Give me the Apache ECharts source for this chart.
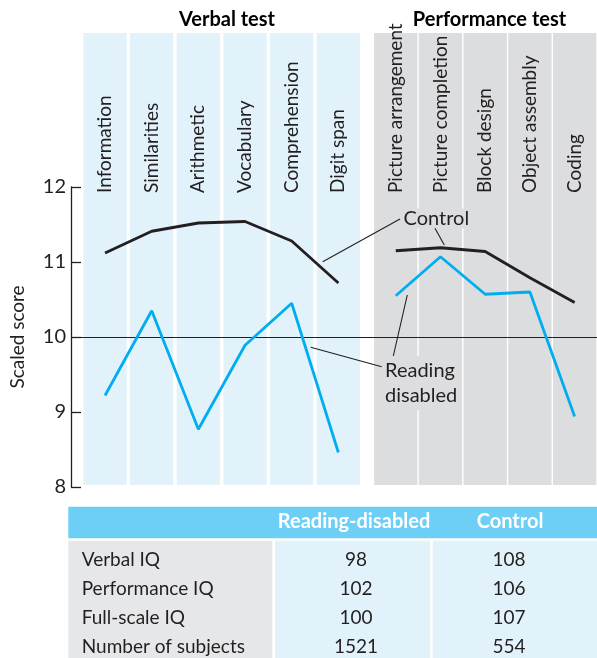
<!DOCTYPE html>
<html>
<head>
<meta charset="utf-8">
<script src="https://cdn.jsdelivr.net/npm/echarts@6/dist/echarts.min.js"></script>
<style>
  html, body { margin: 0; padding: 0; background: #ffffff; }
  #chart { width: 597px; height: 658px; }
</style>
</head>
<body>
<div id="chart"></div>
<script>
// ---- data ----
const verbalTests = ['Information', 'Similarities', 'Arithmetic', 'Vocabulary', 'Comprehension', 'Digit span'];
const performanceTests = ['Picture arrangement', 'Picture completion', 'Block design', 'Object assembly', 'Coding'];
const controlVerbal = [11.12, 11.41, 11.52, 11.54, 11.28, 10.72];
const controlPerformance = [11.15, 11.19, 11.14, 10.79, 10.46];
const readingVerbal = [9.22, 10.35, 8.77, 9.89, 10.45, 8.46];
const readingPerformance = [10.55, 11.07, 10.57, 10.60, 8.94];
const yTicks = [8, 9, 10, 11, 12];
const referenceScore = 10;
const groupTitles = ['Verbal test', 'Performance test'];
const tableHeader = ['Reading-disabled', 'Control'];
const tableRowLabels = ['Verbal IQ', 'Performance IQ', 'Full-scale IQ', 'Number of subjects'];
const tableReading = ['98', '102', '100', '1521'];
const tableControl = ['108', '106', '107', '554'];

// ---- styling ----
const FONT = 'Lato, "Open Sans", sans-serif';
const INK = '#231f20';
const BLUE = '#00aeef';
const VERBAL_BG = '#e1f2fb';
const PERF_BG = '#dcdddf';

const chart = echarts.init(document.getElementById('chart'), null, { renderer: 'canvas' });

const PLOT_TOP = 187, PLOT_H = 300;
const BG_TOP = 33, BG_H = 452;
const V_LEFT = 81.7, V_W = 280;
const P_LEFT = 373.4, P_W = 236;

function bgOnes(n) { return new Array(n).fill(1); }

const tbl = [];
tbl.push({ type: 'rect', shape: { x: 68.3, y: 506.7, width: 528.7, height: 31.6 }, style: { fill: '#6dcff6' } });
tbl.push({ type: 'rect', shape: { x: 68.3, y: 540.7, width: 204, height: 118 }, style: { fill: '#e6e7e8' } });
tbl.push({ type: 'rect', shape: { x: 275, y: 540.7, width: 155, height: 118 }, style: { fill: VERBAL_BG } });
tbl.push({ type: 'rect', shape: { x: 432.7, y: 540.7, width: 164.3, height: 118 }, style: { fill: VERBAL_BG } });
tbl.push({ type: 'text', style: { x: 354, y: 522, text: tableHeader[0], fill: '#ffffff', font: 'bold 20px ' + FONT, textAlign: 'center', textVerticalAlign: 'middle' } });
tbl.push({ type: 'text', style: { x: 510, y: 522, text: tableHeader[1], fill: '#ffffff', font: 'bold 20px ' + FONT, textAlign: 'center', textVerticalAlign: 'middle' } });
const rowY = [560, 589.3, 618.3, 646.7];
tableRowLabels.forEach((lab, i) => {
  tbl.push({ type: 'text', style: { x: 81.7, y: rowY[i], text: lab, fill: INK, font: '19px ' + FONT, textAlign: 'left', textVerticalAlign: 'middle' } });
  tbl.push({ type: 'text', style: { x: 356, y: rowY[i], text: tableReading[i], fill: INK, font: '19px ' + FONT, textAlign: 'center', textVerticalAlign: 'middle' } });
  tbl.push({ type: 'text', style: { x: 509, y: rowY[i], text: tableControl[i], fill: INK, font: '19px ' + FONT, textAlign: 'center', textVerticalAlign: 'middle' } });
});

// titles
tbl.push({ type: 'text', style: { x: 227, y: 20, text: groupTitles[0], fill: '#000', font: 'bold 20px ' + FONT, textAlign: 'center', textVerticalAlign: 'middle' } });
tbl.push({ type: 'text', style: { x: 489.5, y: 20, text: groupTitles[1], fill: '#000', font: 'bold 20px ' + FONT, textAlign: 'center', textVerticalAlign: 'middle' } });

// annotations: labels with leader lines
const annoFont = '20px ' + FONT;
tbl.push({ type: 'text', z: 20, style: { x: 403.5, y: 218.5, text: 'Control', fill: INK, font: annoFont, textAlign: 'left', textVerticalAlign: 'middle', backgroundColor: PERF_BG } });
tbl.push({ type: 'text', z: 20, style: { x: 385, y: 383, text: 'Reading\ndisabled', fill: INK, font: annoFont, lineHeight: 25, textAlign: 'left', textVerticalAlign: 'middle', backgroundColor: PERF_BG, padding: [2, 2, 2, 0] } });
const leaders = [
  [400, 219, 322.7, 261.7],
  [435, 228.3, 444.3, 245],
  [381.7, 366.7, 310.7, 347.3],
  [393.3, 356, 407.3, 295]
];
leaders.forEach(l => tbl.push({ type: 'line', z: 21, shape: { x1: l[0], y1: l[1], x2: l[2], y2: l[3] }, style: { stroke: INK, lineWidth: 1.1 } }));

const hiddenCat = (gi, data) => ({ type: 'category', gridIndex: gi, data: data, show: false, boundaryGap: true });
const hiddenVal = (gi, min, max) => ({ type: 'value', gridIndex: gi, min: min, max: max, show: false });
const catLabel = { interval: 0, rotate: -90, margin: -6, fontSize: 19, color: INK, fontFamily: FONT };

const option = {
  animation: false,
  backgroundColor: '#ffffff',
  textStyle: { fontFamily: FONT, color: INK },
  grid: [
    { left: 68.3, right: 0, top: PLOT_TOP, height: PLOT_H },
    { left: V_LEFT, width: V_W, top: BG_TOP, height: BG_H },
    { left: P_LEFT, width: P_W, top: BG_TOP, height: BG_H },
    { left: V_LEFT, width: V_W, top: PLOT_TOP, height: PLOT_H },
    { left: P_LEFT, width: P_W, top: PLOT_TOP, height: PLOT_H }
  ],
  xAxis: [
    { type: 'value', gridIndex: 0, min: 0, max: 1, show: false },
    hiddenCat(1, verbalTests),
    hiddenCat(2, performanceTests),
    {
      type: 'category', gridIndex: 3, data: verbalTests, position: 'top', boundaryGap: true,
      axisLine: { show: false }, axisTick: { show: false }, axisLabel: catLabel
    },
    {
      type: 'category', gridIndex: 4, data: performanceTests, position: 'top', boundaryGap: true,
      axisLine: { show: false }, axisTick: { show: false }, axisLabel: catLabel
    }
  ],
  yAxis: [
    {
      type: 'value', gridIndex: 0, min: yTicks[0], max: yTicks[yTicks.length - 1], interval: 1,
      name: 'Scaled score', nameLocation: 'middle', nameGap: 44,
      nameTextStyle: { fontSize: 19, color: INK, fontFamily: FONT },
      axisLine: { show: true, lineStyle: { color: INK, width: 1.3 } },
      axisTick: { show: true, inside: true, length: 10, lineStyle: { color: INK, width: 1.3 } },
      axisLabel: { fontSize: 20, color: INK, margin: 5, fontFamily: FONT },
      splitLine: { show: false }
    },
    hiddenVal(1, 0, 1),
    hiddenVal(2, 0, 1),
    hiddenVal(3, yTicks[0], yTicks[yTicks.length - 1]),
    hiddenVal(4, yTicks[0], yTicks[yTicks.length - 1])
  ],
  series: [
    {
      type: 'bar', xAxisIndex: 1, yAxisIndex: 1, data: bgOnes(verbalTests.length), barWidth: 43.3,
      itemStyle: { color: VERBAL_BG }, z: 0, silent: true
    },
    {
      type: 'bar', xAxisIndex: 2, yAxisIndex: 2, data: bgOnes(performanceTests.length), barWidth: 43.3,
      itemStyle: { color: PERF_BG }, z: 0, silent: true
    },
    {
      type: 'line', xAxisIndex: 0, yAxisIndex: 0, data: [], z: 3,
      markLine: {
        silent: true, symbol: 'none', label: { show: false },
        lineStyle: { color: INK, width: 1.2, type: 'solid' },
        data: [{ yAxis: referenceScore }]
      }
    },
    {
      name: 'Control', type: 'line', xAxisIndex: 3, yAxisIndex: 3, data: controlVerbal, z: 5,
      symbol: 'none', lineStyle: { color: INK, width: 2.8 }, itemStyle: { color: INK }
    },
    {
      name: 'Reading disabled', type: 'line', xAxisIndex: 3, yAxisIndex: 3, data: readingVerbal, z: 5,
      symbol: 'none', lineStyle: { color: BLUE, width: 2.8 }, itemStyle: { color: BLUE }
    },
    {
      name: 'Control', type: 'line', xAxisIndex: 4, yAxisIndex: 4, data: controlPerformance, z: 5,
      symbol: 'none', lineStyle: { color: INK, width: 2.8 }, itemStyle: { color: INK }
    },
    {
      name: 'Reading disabled', type: 'line', xAxisIndex: 4, yAxisIndex: 4, data: readingPerformance, z: 5,
      symbol: 'none', lineStyle: { color: BLUE, width: 2.8 }, itemStyle: { color: BLUE }
    }
  ],
  graphic: tbl
};

chart.setOption(option);
</script>
</body>
</html>
